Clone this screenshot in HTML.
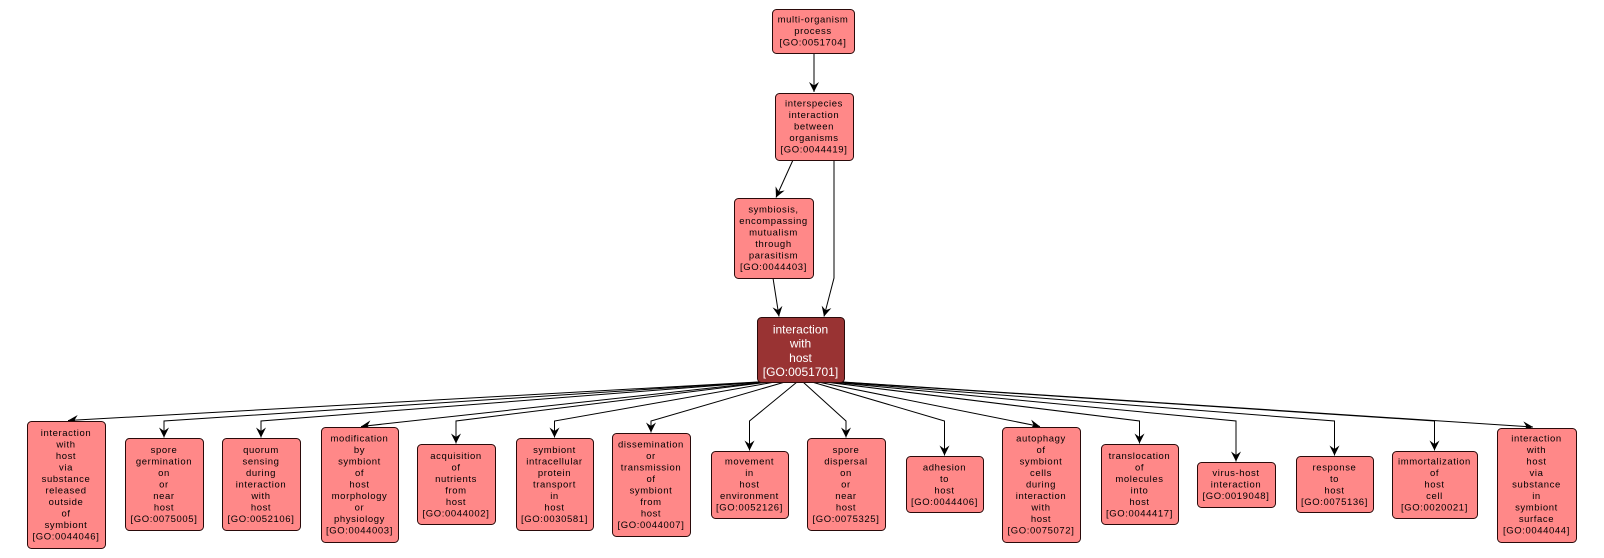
<!DOCTYPE html>
<html>
<head>
<meta charset="utf-8">
<style>
html,body{margin:0;padding:0;background:#fff;}
svg{display:block;}
.n{fill:#FF8888;stroke:#2a0a0a;stroke-width:1;}
.m{fill:#993333;stroke:#2a0a0a;stroke-width:1;}
.t{font-family:"Liberation Sans",sans-serif;font-size:9.5px;letter-spacing:0.6px;fill:#000;text-anchor:middle;}
.w{font-family:"Liberation Sans",sans-serif;font-size:12px;fill:#fff;text-anchor:middle;}
.e{fill:none;stroke:#000;stroke-width:1;marker-end:url(#a);}
</style>
</head>
<body>
<svg width="1604" height="558" viewBox="0 0 1604 558" xmlns="http://www.w3.org/2000/svg">
<defs>
<marker id="a" markerUnits="userSpaceOnUse" markerWidth="11" markerHeight="11" refX="10" refY="5" orient="auto">
<path d="M0,0 L10,5 L0,10 L3.5,5 z" fill="#000"/>
</marker>
</defs>

<!-- top edges -->
<path class="e" d="M814,53 L814,92"/>
<path class="e" d="M793,160 L776,197.5"/>
<path class="e" d="M834,160 L834,278 L824,316.5"/>
<path class="e" d="M773,278 L779,316.5"/>

<!-- bottom edges -->
<path class="e" d="M758,382 L68,420.5"/>
<path class="e" d="M760,382 L164,421 L164,437.5"/>
<path class="e" d="M762,382 L261,421 L261,437.5"/>
<path class="e" d="M765,382 L361,426.5"/>
<path class="e" d="M769,382 L456,421 L456,443.5"/>
<path class="e" d="M775,382 L554.5,421 L554.5,437.5"/>
<path class="e" d="M785,382 L651,421 L651,432.5"/>
<path class="e" d="M797,382 L749.5,421 L749.5,450.5"/>
<path class="e" d="M803,382 L846,421 L846,437.5"/>
<path class="e" d="M812,382 L944.5,421 L944.5,455.5"/>
<path class="e" d="M818,382 L1040,426.5"/>
<path class="e" d="M825,382 L1139.5,421 L1139.5,443.5"/>
<path class="e" d="M830,382 L1236,421 L1236,461.5"/>
<path class="e" d="M835,382 L1334.5,421 L1334.5,455.5"/>
<path class="e" d="M840,382 L1434.5,421 L1434.5,450.5"/>
<path class="e" d="M843,382 L1533,427"/>

<!-- top nodes -->
<rect class="n" x="772.5" y="9.5" width="82" height="44" rx="4"/>
<text class="t" x="813" y="22.7"><tspan x="813" dy="0">multi-organism</tspan><tspan x="813" dy="11.5">process</tspan><tspan x="813" dy="11.5">[GO:0051704]</tspan></text>

<rect class="n" x="775.5" y="93.5" width="78" height="67" rx="4"/>
<text class="t" x="814" y="106.7"><tspan x="814" dy="0">interspecies</tspan><tspan x="814" dy="11.5">interaction</tspan><tspan x="814" dy="11.5">between</tspan><tspan x="814" dy="11.5">organisms</tspan><tspan x="814" dy="11.5">[GO:0044419]</tspan></text>

<rect class="n" x="734.5" y="198.5" width="79" height="80" rx="4"/>
<text class="t" x="773.5" y="212.45"><tspan x="773.5" dy="0">symbiosis,</tspan><tspan x="773.5" dy="11.5">encompassing</tspan><tspan x="773.5" dy="11.5">mutualism</tspan><tspan x="773.5" dy="11.5">through</tspan><tspan x="773.5" dy="11.5">parasitism</tspan><tspan x="773.5" dy="11.5">[GO:0044403]</tspan></text>

<rect class="m" x="757.5" y="317.5" width="87" height="65" rx="4"/>
<text class="w" x="800.5" y="333.3"><tspan x="800.5" dy="0">interaction</tspan><tspan x="800.5" dy="14.3">with</tspan><tspan x="800.5" dy="14.3">host</tspan><tspan x="800.5" dy="14.3">[GO:0051701]</tspan></text>

<!-- bottom nodes -->
<rect class="n" x="27.5" y="421.5" width="78" height="127" rx="4"/>
<text class="t" x="66" y="436"><tspan x="66" dy="0">interaction</tspan><tspan x="66" dy="11.5">with</tspan><tspan x="66" dy="11.5">host</tspan><tspan x="66" dy="11.5">via</tspan><tspan x="66" dy="11.5">substance</tspan><tspan x="66" dy="11.5">released</tspan><tspan x="66" dy="11.5">outside</tspan><tspan x="66" dy="11.5">of</tspan><tspan x="66" dy="11.5">symbiont</tspan><tspan x="66" dy="11.5">[GO:0044046]</tspan></text>

<rect class="n" x="125.5" y="438.5" width="78" height="92" rx="4"/>
<text class="t" x="164" y="453.2"><tspan x="164" dy="0">spore</tspan><tspan x="164" dy="11.5">germination</tspan><tspan x="164" dy="11.5">on</tspan><tspan x="164" dy="11.5">or</tspan><tspan x="164" dy="11.5">near</tspan><tspan x="164" dy="11.5">host</tspan><tspan x="164" dy="11.5">[GO:0075005]</tspan></text>

<rect class="n" x="222.5" y="438.5" width="78" height="92" rx="4"/>
<text class="t" x="261" y="453.2"><tspan x="261" dy="0">quorum</tspan><tspan x="261" dy="11.5">sensing</tspan><tspan x="261" dy="11.5">during</tspan><tspan x="261" dy="11.5">interaction</tspan><tspan x="261" dy="11.5">with</tspan><tspan x="261" dy="11.5">host</tspan><tspan x="261" dy="11.5">[GO:0052106]</tspan></text>

<rect class="n" x="321.5" y="427.5" width="77" height="115" rx="4"/>
<text class="t" x="359.5" y="441.7"><tspan x="359.5" dy="0">modification</tspan><tspan x="359.5" dy="11.5">by</tspan><tspan x="359.5" dy="11.5">symbiont</tspan><tspan x="359.5" dy="11.5">of</tspan><tspan x="359.5" dy="11.5">host</tspan><tspan x="359.5" dy="11.5">morphology</tspan><tspan x="359.5" dy="11.5">or</tspan><tspan x="359.5" dy="11.5">physiology</tspan><tspan x="359.5" dy="11.5">[GO:0044003]</tspan></text>

<rect class="n" x="417.5" y="444.5" width="78" height="80" rx="4"/>
<text class="t" x="456" y="458.95"><tspan x="456" dy="0">acquisition</tspan><tspan x="456" dy="11.5">of</tspan><tspan x="456" dy="11.5">nutrients</tspan><tspan x="456" dy="11.5">from</tspan><tspan x="456" dy="11.5">host</tspan><tspan x="456" dy="11.5">[GO:0044002]</tspan></text>

<rect class="n" x="516.5" y="438.5" width="77" height="92" rx="4"/>
<text class="t" x="554.5" y="453.2"><tspan x="554.5" dy="0">symbiont</tspan><tspan x="554.5" dy="11.5">intracellular</tspan><tspan x="554.5" dy="11.5">protein</tspan><tspan x="554.5" dy="11.5">transport</tspan><tspan x="554.5" dy="11.5">in</tspan><tspan x="554.5" dy="11.5">host</tspan><tspan x="554.5" dy="11.5">[GO:0030581]</tspan></text>

<rect class="n" x="612.5" y="433.5" width="78" height="103" rx="4"/>
<text class="t" x="651" y="447.45"><tspan x="651" dy="0">dissemination</tspan><tspan x="651" dy="11.5">or</tspan><tspan x="651" dy="11.5">transmission</tspan><tspan x="651" dy="11.5">of</tspan><tspan x="651" dy="11.5">symbiont</tspan><tspan x="651" dy="11.5">from</tspan><tspan x="651" dy="11.5">host</tspan><tspan x="651" dy="11.5">[GO:0044007]</tspan></text>

<rect class="n" x="711.5" y="451.5" width="77" height="67" rx="4"/>
<text class="t" x="749.5" y="464.7"><tspan x="749.5" dy="0">movement</tspan><tspan x="749.5" dy="11.5">in</tspan><tspan x="749.5" dy="11.5">host</tspan><tspan x="749.5" dy="11.5">environment</tspan><tspan x="749.5" dy="11.5">[GO:0052126]</tspan></text>

<rect class="n" x="807.5" y="438.5" width="78" height="92" rx="4"/>
<text class="t" x="846" y="453.2"><tspan x="846" dy="0">spore</tspan><tspan x="846" dy="11.5">dispersal</tspan><tspan x="846" dy="11.5">on</tspan><tspan x="846" dy="11.5">or</tspan><tspan x="846" dy="11.5">near</tspan><tspan x="846" dy="11.5">host</tspan><tspan x="846" dy="11.5">[GO:0075325]</tspan></text>

<rect class="n" x="906.5" y="456.5" width="77" height="56" rx="4"/>
<text class="t" x="944.5" y="470.45"><tspan x="944.5" dy="0">adhesion</tspan><tspan x="944.5" dy="11.5">to</tspan><tspan x="944.5" dy="11.5">host</tspan><tspan x="944.5" dy="11.5">[GO:0044406]</tspan></text>

<rect class="n" x="1002.5" y="427.5" width="78" height="115" rx="4"/>
<text class="t" x="1041" y="441.7"><tspan x="1041" dy="0">autophagy</tspan><tspan x="1041" dy="11.5">of</tspan><tspan x="1041" dy="11.5">symbiont</tspan><tspan x="1041" dy="11.5">cells</tspan><tspan x="1041" dy="11.5">during</tspan><tspan x="1041" dy="11.5">interaction</tspan><tspan x="1041" dy="11.5">with</tspan><tspan x="1041" dy="11.5">host</tspan><tspan x="1041" dy="11.5">[GO:0075072]</tspan></text>

<rect class="n" x="1101.5" y="444.5" width="77" height="80" rx="4"/>
<text class="t" x="1139.5" y="458.95"><tspan x="1139.5" dy="0">translocation</tspan><tspan x="1139.5" dy="11.5">of</tspan><tspan x="1139.5" dy="11.5">molecules</tspan><tspan x="1139.5" dy="11.5">into</tspan><tspan x="1139.5" dy="11.5">host</tspan><tspan x="1139.5" dy="11.5">[GO:0044417]</tspan></text>

<rect class="n" x="1197.5" y="462.5" width="78" height="45" rx="4"/>
<text class="t" x="1236" y="476.2"><tspan x="1236" dy="0">virus-host</tspan><tspan x="1236" dy="11.5">interaction</tspan><tspan x="1236" dy="11.5">[GO:0019048]</tspan></text>

<rect class="n" x="1296.5" y="456.5" width="77" height="56" rx="4"/>
<text class="t" x="1334.5" y="470.45"><tspan x="1334.5" dy="0">response</tspan><tspan x="1334.5" dy="11.5">to</tspan><tspan x="1334.5" dy="11.5">host</tspan><tspan x="1334.5" dy="11.5">[GO:0075136]</tspan></text>

<rect class="n" x="1392.5" y="451.5" width="85" height="67" rx="4"/>
<text class="t" x="1434.5" y="464.7"><tspan x="1434.5" dy="0">immortalization</tspan><tspan x="1434.5" dy="11.5">of</tspan><tspan x="1434.5" dy="11.5">host</tspan><tspan x="1434.5" dy="11.5">cell</tspan><tspan x="1434.5" dy="11.5">[GO:0020021]</tspan></text>

<rect class="n" x="1497.5" y="428.5" width="79" height="114" rx="4"/>
<text class="t" x="1536.5" y="441.7"><tspan x="1536.5" dy="0">interaction</tspan><tspan x="1536.5" dy="11.5">with</tspan><tspan x="1536.5" dy="11.5">host</tspan><tspan x="1536.5" dy="11.5">via</tspan><tspan x="1536.5" dy="11.5">substance</tspan><tspan x="1536.5" dy="11.5">in</tspan><tspan x="1536.5" dy="11.5">symbiont</tspan><tspan x="1536.5" dy="11.5">surface</tspan><tspan x="1536.5" dy="11.5">[GO:0044044]</tspan></text>
</svg>
</body>
</html>
